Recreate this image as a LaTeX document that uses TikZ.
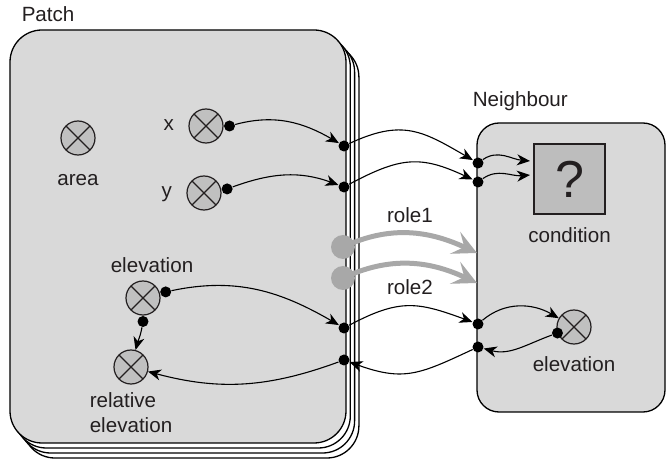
\documentclass[tikz,border=0pt]{standalone}
\usepackage{fontspec}
\setmainfont{Liberation Sans}
\usepackage{tikz}
\usetikzlibrary{arrows.meta, positioning}
\definecolor{boxgray}{RGB}{217, 217, 217}
\definecolor{vargray}{RGB}{192, 192, 192}
\definecolor{condgray}{RGB}{189, 189, 189}
\definecolor{rolegray}{RGB}{168, 168, 168}
\definecolor{inkgray}{RGB}{35, 31, 32}

\begin{document}
\begin{tikzpicture}[
    x=0.5pt, y=-0.5pt,
    font=\fontsize{10.3}{12.5}\selectfont,
    patchbox/.style = {draw=black, rounded corners=16pt, fill=boxgray, line width=0.65pt},
    var/.style      = {circle, draw=inkgray, fill=vargray, minimum size=17pt, inner sep=0pt,
                       line width=0.6pt,
                       path picture={\draw[inkgray, line width=0.6pt]
                         (path picture bounding box.north west) -- (path picture bounding box.south east)
                         (path picture bounding box.north east) -- (path picture bounding box.south west);}},
    portdot/.style  = {circle, fill=black, inner sep=0pt, minimum size=5.5pt},
    lbl/.style      = {text=inkgray, text height=7pt, text depth=2pt, inner sep=1pt},
    conn/.style     = {-{Stealth[length=6.5pt, width=5.5pt, inset=2pt]}, line width=0.55pt},
    role/.style     = {-{Stealth[length=12pt, width=12pt, inset=5pt]}, line width=2.5pt, color=rolegray},
  ]
  \useasboundingbox (0,0) rectangle (666,460);

  % patch with its stacked copies
  \foreach \k in {3,2,1}
    \node[patchbox, fill=white, minimum width=168pt, minimum height=206.5pt,
          xshift={\k*2.15pt}, yshift={-\k*2.5pt}] at (178,236.5) {};
  \node[patchbox, minimum width=168pt, minimum height=206.5pt] (patch) at (178,236.5) {};
  \node[lbl, above right=0.5pt and 5pt of patch.north west] {Patch};

  % neighbour
  \node[patchbox, rounded corners=11pt, minimum width=94pt, minimum height=144.5pt] (nb) at (571,267.5) {};
  \node[lbl, above right=4.5pt and -3pt of nb.north west] {Neighbour};

  % variables
  \node[var] (area) at (78,138) {};
  \node[lbl, below=7pt of area] {area};
  \node[var] (x) at (206,126) {};
  \node[lbl, left=6pt of x] {x};
  \node[var] (y) at (204,193) {};
  \node[lbl, left=6pt of y] {y};
  \node[var] (elev) at (143,298) {};
  \node[lbl, above=0.5pt of elev, xshift=4.5pt] {elevation};
  \node[var] (relev) at (131,367) {};
  \node[text=inkgray, inner sep=1pt, align=left, below=3pt of relev] {relative\\elevation};
  \node[var] (nelev) at (574,327) {};
  \node[lbl, below=5.5pt of nelev] {elevation};

  \node[draw=inkgray, fill=condgray, minimum width=35.5pt, minimum height=35pt, inner sep=0pt,
        line width=0.55pt, text=inkgray, font=\fontsize{26}{26}\selectfont] (cond) at (569.5,179) {?};
  \node[lbl, below=6pt of cond] {condition};

  % dots on variables
  \node[portdot, anchor=west] (xd) at (x.east) {};
  \node[portdot, anchor=190] (yd) at (y.10) {};
  \node[portdot, anchor=195] (ed) at (elev.15) {};
  \node[portdot, anchor=north] (eb) at (elev.south) {};
  \node[portdot] (nd) at (nelev.200) {};

  % ports
  \node[portdot] (px) at (344,146) {};
  \node[portdot] (py) at (344,187) {};
  \node[portdot] (pe) at (344,328) {};
  \node[portdot] (pr) at (344,360) {};
  \node[portdot] (nx) at (478,163) {};
  \node[portdot] (ny) at (478,182) {};
  \node[portdot] (ne) at (478,324) {};
  \node[portdot] (nr) at (478,347) {};
  \coordinate (c1) at (530,161);
  \coordinate (c2) at (530,175);

  % roles
  \coordinate (t1) at (477,253);
  \coordinate (t2) at (477,283);
  \draw[role] (343,247) to[out=25, in=155] node[midway, above=1pt, lbl] {role1} (t1);
  \draw[role] (343,278) to[out=25, in=155] node[midway, below=6pt, lbl] {role2} (t2);
  \node[circle, fill=rolegray, minimum size=12pt, inner sep=0pt] (r1) at (343,247) {};
  \node[circle, fill=rolegray, minimum size=12pt, inner sep=0pt] (r2) at (343,278) {};

  % connections
  \draw[conn] (xd) to[out=15, in=150] (px);
  \draw[conn] (yd) to[out=20, in=160] (py);
  \draw[conn] (ed) to[out=12, in=150] (pe);
  \draw[conn] (eb) to[out=-100, in=75] (relev);
  \draw[conn] (pr) to[out=200, in=-15] (relev);
  \draw[conn, looseness=1.2] (px) to[out=25, in=150] (nx);
  \draw[conn, looseness=1.2] (py) to[out=28, in=155] (ny);
  \draw[conn, looseness=1.2] (pe) to[out=28, in=160] (ne);
  \draw[conn, looseness=1.2] (nr) to[out=205, in=-20] (pr);
  \draw[conn] (nx) to[out=35, in=175] (c1);
  \draw[conn] (ny) to[out=35, in=185] (c2);
  \draw[conn] (ne) to[out=40, in=150] (nelev);
  \draw[conn] (nd) to[out=-160, in=-15] (nr);
\end{tikzpicture}
\end{document}
